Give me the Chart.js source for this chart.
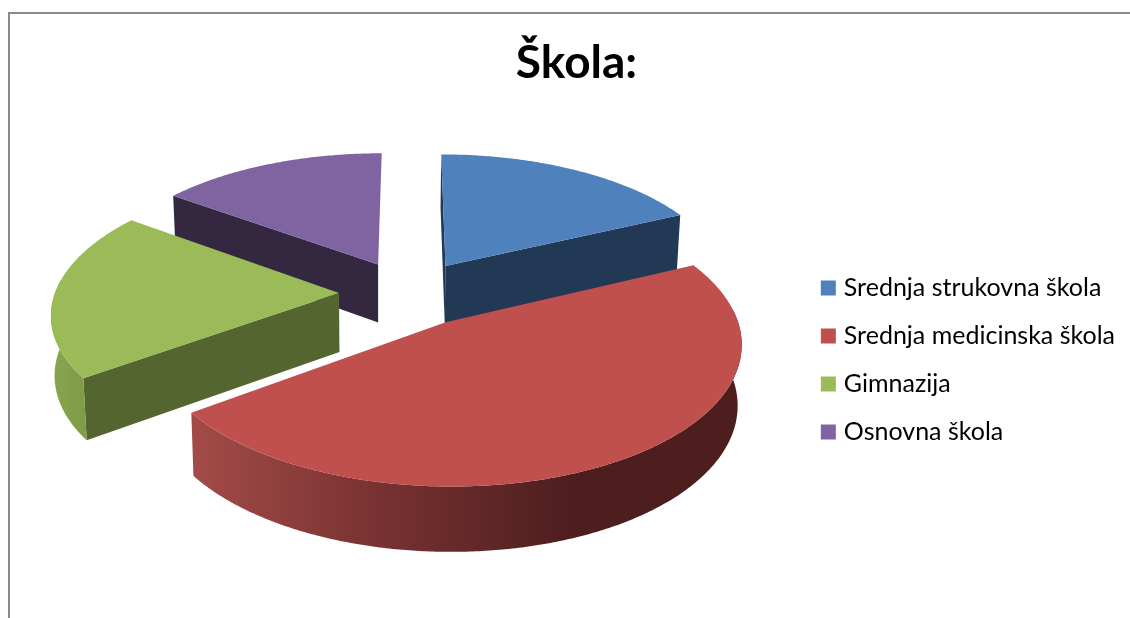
<!DOCTYPE html>
<html>
<head>
<meta charset="utf-8">
<title>Škola</title>
<script src="https://cdn.jsdelivr.net/npm/chart.js@4/dist/chart.umd.min.js"></script>
<style>
    html, body { margin: 0; padding: 0; background: #fff; overflow: hidden; }
    #wrap { position: relative; width: 1130px; height: 618px; }
    #frame { position: absolute; left: 8px; top: 12px; right: 0; bottom: 0; border-left: 2px solid #8a8a8a; border-top: 2px solid #8a8a8a; }
    canvas { position: absolute; left: 0; top: 0; }
</style>
</head>
<body>
<div id="wrap">
    <div id="frame"></div>
    <canvas id="school-chart" width="1130" height="618"></canvas>
</div>
<script>
const chartTitle = 'Škola:';
const categories = ['Srednja strukovna škola', 'Srednja medicinska škola', 'Gimnazija', 'Osnovna škola'];
const shares = [18, 47, 20, 15];
const sliceColors = ['#4f81bd', '#c0504d', '#9bbb59', '#8064a2'];
const sideColors = ['#213955', '#4e1e1e', '#54652f', '#33283f'];

// outer wall shading, [screen x, colour] per slice
const wallShades = [
    [[440, '#213955'], [680, '#213955']],
    [[190, '#a44b48'], [380, '#773231'], [570, '#4e1e1e'], [745, '#4e1e1e']],
    [[50, '#89a54e'], [90, '#7f9a47']],
    [[170, '#33283f'], [385, '#33283f']]
];

// fake 3D camera
const view = { cx: 409, cy: 293, radius: 284, explode: 70, tilt: 0.47, dist: 2100, depth: 59 };
const drawOrder = [3, 0, 2, 1];

function project(x, y, z) {
    const f = view.dist / (view.dist - y);
    const lean = z * 0.00019 * (x * f + 30);
    const depth = z * (1 + y / 3200);
    return [view.cx + x * f - lean, view.cy + y * view.tilt * f + depth];
}

function tracePoints(ctx, pts) {
    ctx.beginPath();
    pts.forEach((p, i) => (i ? ctx.lineTo(p[0], p[1]) : ctx.moveTo(p[0], p[1])));
    ctx.closePath();
}

function drawSlice(ctx, arc, index) {
    const { startAngle, endAngle } = arc.getProps(['startAngle', 'endAngle'], true);
    const mid = (startAngle + endAngle) / 2;
    const ox = Math.cos(mid) * view.explode;
    const oy = Math.sin(mid) * view.explode;

    // sample the rim
    const rim = [];
    const front = [];
    const steps = Math.ceil((endAngle - startAngle) / 0.01);
    for (let i = 0; i <= steps; i++) {
        const a = startAngle + (endAngle - startAngle) * i / steps;
        const p = [ox + Math.cos(a) * view.radius, oy + Math.sin(a) * view.radius];
        rim.push(p);
        if (Math.sin(a) > -0.1) front.push(p);
    }

    // cut faces, only the ones turned towards the camera
    ctx.fillStyle = sideColors[index];
    const faces = [[startAngle, rim[0], 1], [endAngle, rim[rim.length - 1], -1]];
    faces.forEach(([a, p, side]) => {
        const facing = side * (Math.sin(a) * (-40 - ox) - Math.cos(a) * (view.dist - oy));
        if (facing <= 0) return;
        tracePoints(ctx, [project(ox, oy, 0), project(p[0], p[1], 0), project(p[0], p[1], view.depth), project(ox, oy, view.depth)]);
        ctx.fill();
    });

    // outer wall
    if (front.length > 1) {
        const shades = wallShades[index];
        const x0 = shades[0][0];
        const x1 = shades[shades.length - 1][0];
        const grad = ctx.createLinearGradient(x0, 0, x1, 0);
        shades.forEach(s => grad.addColorStop((s[0] - x0) / (x1 - x0), s[1]));
        ctx.fillStyle = grad;
        const wall = front.map(p => project(p[0], p[1], 0))
            .concat(front.slice().reverse().map(p => project(p[0], p[1], view.depth)));
        tracePoints(ctx, wall);
        ctx.fill();
    }

    // top
    ctx.fillStyle = sliceColors[index];
    tracePoints(ctx, [project(ox, oy, 0)].concat(rim.map(p => project(p[0], p[1], 0))));
    ctx.fill();
}

const pie3d = {
    id: 'pie3d',
    beforeDatasetsDraw(chart) {
        const arcs = chart.getDatasetMeta(0).data;
        const ctx = chart.ctx;
        ctx.save();
        drawOrder.forEach(i => drawSlice(ctx, arcs[i], i));
        ctx.restore();
        return false;
    }
};

new Chart(document.getElementById('school-chart'), {
    type: 'pie',
    data: {
        labels: categories,
        datasets: [{ data: shares, backgroundColor: sliceColors, borderWidth: 0 }]
    },
    options: {
        responsive: false,
        animation: false,
        layout: { padding: { left: 28, right: 5, top: 36, bottom: 0 } },
        plugins: {
            tooltip: { enabled: false },
            title: {
                display: true,
                text: chartTitle,
                color: '#000',
                font: { family: 'Lato', size: 46, weight: 'bold' },
                padding: { top: 0, bottom: 11 }
            },
            legend: {
                position: 'right',
                fullSize: false,
                labels: {
                    color: '#111',
                    font: { family: 'Lato', size: 25 },
                    boxWidth: 6,
                    boxHeight: 6,
                    padding: 23,
                    generateLabels(chart) {
                        return categories.map((c, i) => ({
                            text: c,
                            fillStyle: sliceColors[i],
                            strokeStyle: sliceColors[i],
                            lineWidth: 9,
                            index: i
                        }));
                    }
                }
            }
        }
    },
    plugins: [pie3d]
});
</script>
</body>
</html>
